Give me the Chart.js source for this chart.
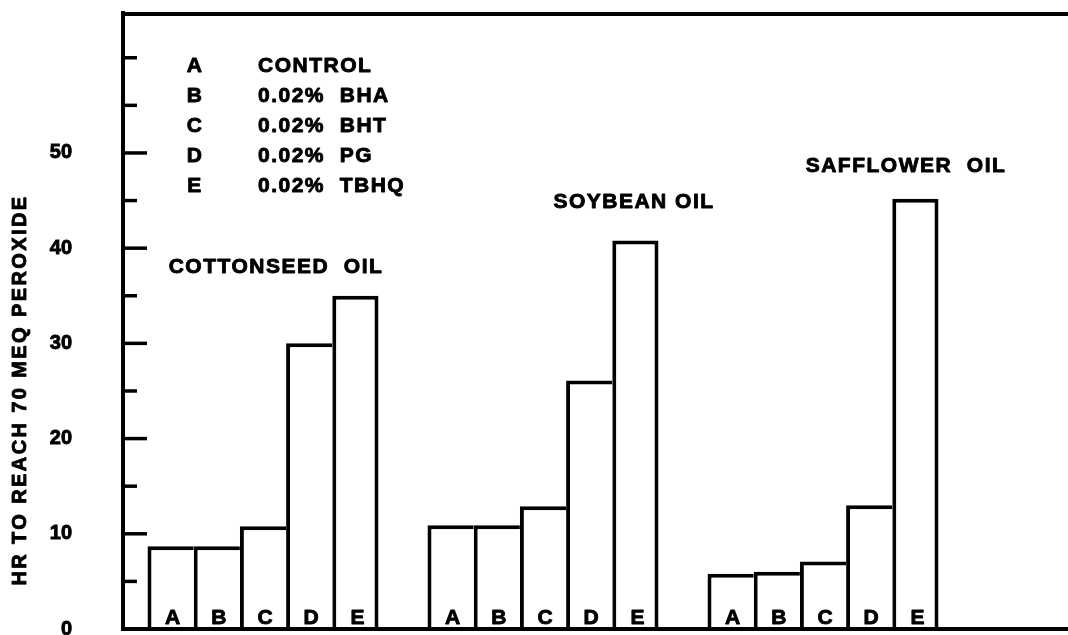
<!DOCTYPE html>
<html>
<head>
<meta charset="utf-8">
<script src="https://cdn.jsdelivr.net/npm/chart.js@4/dist/chart.umd.min.js"></script>
<style>
  html, body { margin: 0; padding: 0; background: #fff; overflow: hidden; }
  #wrap { position: relative; width: 1068px; height: 635px; }
</style>
</head>
<body>
<div id="wrap"><canvas id="c" width="1068" height="635"></canvas></div>
<script>
// Hours to reach 70 meq peroxide, by oil (category) and antioxidant treatment (series)
const oils = ['COTTONSEED  OIL', 'SOYBEAN OIL', 'SAFFLOWER  OIL'];
const treatmentCodes = ['A', 'B', 'C', 'D', 'E'];
const treatmentNames = ['CONTROL', '0.02%  BHA', '0.02%  BHT', '0.02%  PG', '0.02%  TBHQ'];
const controlHr = [8.7, 10.9, 5.8];
const bhaHr     = [8.7, 10.9, 6.0];
const bhtHr     = [10.8, 12.9, 7.1];
const pgHr      = [30.0, 26.1, 13.0];
const tbhqHr    = [35.0, 40.8, 45.2];
const yTickLabels = [0, 10, 20, 30, 40, 50];
const yAxisTitle = 'HR TO REACH 70 MEQ PEROXIDE';

const seriesHr = [controlHr, bhaHr, bhtHr, pgHr, tbhqHr];

// Where each oil name sits: height on the value axis and horizontal shift from the group centre
const oilTitlePlacement = [
  { value: 37.4, dx: 13 },
  { value: 44.2, dx: 91 },
  { value: 48.0, dx: 83 }
];

const FONT = '"Liberation Sans", Arial, Helvetica, sans-serif';

// bold lettering with a hairline outline so it reads as heavy type
function heavyText(ctx, text, x, y) {
  ctx.fillText(text, x, y);
  ctx.strokeText(text, x, y);
}

const frameAndNotes = {
  id: 'frameAndNotes',
  afterDraw(chart) {
    const { ctx, chartArea: area, scales: { y } } = chart;
    const W = chart.width;
    ctx.save();
    ctx.strokeStyle = '#000';
    ctx.fillStyle = '#000';
    ctx.lineCap = 'butt';

    // top frame line and base line run to the edge of the page
    ctx.lineWidth = 4;
    ctx.beginPath();
    ctx.moveTo(area.left - 2, area.top + 1);
    ctx.lineTo(W, area.top + 1);
    ctx.stroke();
    ctx.beginPath();
    ctx.moveTo(area.left - 2, area.bottom);
    ctx.lineTo(W, area.bottom);
    ctx.stroke();

    // inward tick marks: long at labelled values, short in between
    ctx.lineWidth = 3.5;
    for (let v = 0; v <= 60; v += 5) {
      const py = y.getPixelForValue(v);
      const len = yTickLabels.includes(v) ? 24 : 14;
      ctx.beginPath();
      ctx.moveTo(area.left, py);
      ctx.lineTo(area.left + len, py);
      ctx.stroke();
    }

    ctx.lineWidth = 0.9;
    ctx.lineJoin = 'round';

    // treatment letter at the foot of each bar
    ctx.font = 'bold 21px ' + FONT;
    ctx.textAlign = 'center';
    ctx.textBaseline = 'alphabetic';
    chart.data.datasets.forEach((ds, di) => {
      chart.getDatasetMeta(di).data.forEach(bar => {
        heavyText(ctx, ds.label, bar.x + 2, area.bottom - 5);
      });
    });

    // key of treatments
    ctx.letterSpacing = '1.5px';
    treatmentCodes.forEach((code, i) => {
      const base = 72 + 30 * i;
      ctx.textAlign = 'center';
      heavyText(ctx, code, 195, base);
      ctx.textAlign = 'left';
      heavyText(ctx, treatmentNames[i], 258, base);
    });

    // oil names above each group
    ctx.textAlign = 'center';
    oils.forEach((name, i) => {
      const p = oilTitlePlacement[i];
      const cx = chart.scales.x.getPixelForValue(i) + p.dx;
      heavyText(ctx, name, cx, y.getPixelForValue(p.value));
    });

    // value axis title, read bottom to top
    ctx.font = 'bold 20px ' + FONT;
    ctx.letterSpacing = '2.4px';
    ctx.translate(26, 390);
    ctx.rotate(-Math.PI / 2);
    ctx.textAlign = 'center';
    heavyText(ctx, yAxisTitle, 0, 0);
    ctx.restore();
  }
};

new Chart(document.getElementById('c'), {
  type: 'bar',
  data: {
    labels: oils,
    datasets: treatmentCodes.map((code, i) => ({
      label: code,
      data: seriesHr[i],
      backgroundColor: '#fff',
      borderColor: '#000',
      borderWidth: i === treatmentCodes.length - 1
        ? { top: 4, left: 4, right: 4, bottom: 0 }
        : { top: 4, left: 4, right: 0, bottom: 0 },
      categoryPercentage: 0.825,
      barPercentage: 1.0
    }))
  },
  options: {
    responsive: false,
    animation: false,
    events: [],
    layout: { padding: { top: 13, right: 105, bottom: 6, left: 0 } },
    plugins: { legend: { display: false }, tooltip: { enabled: false } },
    scales: {
      x: { display: false },
      y: {
        min: 0,
        max: 64.7,
        afterFit(s) { s.width = 123; s.paddingTop = 0; s.paddingBottom = 0; },
        grid: { display: false },
        border: { display: true, color: '#000', width: 4 },
        ticks: {
          stepSize: 5,
          autoSkip: false,
          padding: 43,
          color: '#000',
          textStrokeColor: '#000',
          textStrokeWidth: 0.9,
          font: { family: FONT, weight: 'bold', size: 20 },
          callback: v => (yTickLabels.includes(v) ? String(v) : '')
        }
      }
    }
  },
  plugins: [frameAndNotes]
});
</script>
</body>
</html>
